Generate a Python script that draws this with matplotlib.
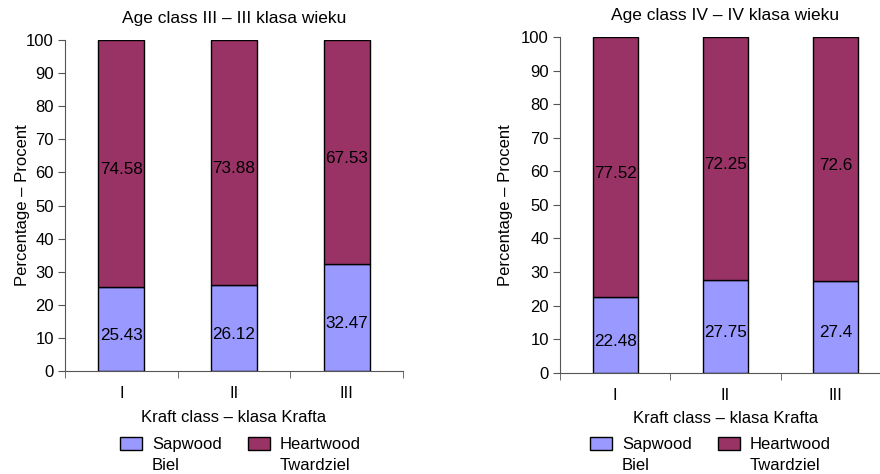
import numpy as np
import matplotlib
matplotlib.use("Agg")
import matplotlib.pyplot as plt
from matplotlib.patches import Patch

plt.rcParams['font.family'] = ['Liberation Sans', 'DejaVu Sans']
plt.rcParams['font.size'] = 12

# data
kraft_classes = ["I", "II", "III"]
sap_age3 = [25.43, 26.12, 32.47]
heart_age3 = [74.58, 73.88, 67.53]
sap_age4 = [22.48, 27.75, 27.4]
heart_age4 = [77.52, 72.25, 72.6]
titles = ["Age class III – III klasa wieku", "Age class IV – IV klasa wieku"]
legend_first = ["Sapwood", "Heartwood"]
legend_second = ["Biel", "Twardziel"]

sap_color = "#9999FF"
heart_color = "#993366"

W, H = 880, 474
fig = plt.figure(figsize=(W / 100, H / 100), dpi=100)

# axes boxes in pixels: left, bottom(y of zero), right, top(y of 100)
boxes = [(65, 371, 403, 40), (560, 372.7, 891, 37)]
legend_pos = [(120, 437), (590, 437)]
ylabel_x = [30, 513]

legends = []

def draw(box, sap, heart, title, leg, ylx):
    l, b, r, t = box
    ax = fig.add_axes([l / W, 1 - b / H, (r - l) / W, (b - t) / H])
    x = np.arange(len(kraft_classes))
    ax.bar(x, sap, width=0.41, color=sap_color, edgecolor="black", linewidth=1)
    ax.bar(x, heart, width=0.41, bottom=sap, color=heart_color, edgecolor="black", linewidth=1)
    for xi, s, h in zip(x, sap, heart):
        ax.annotate(f"{s:g}", (xi, s / 2), xytext=(0, -4.5), textcoords="offset points",
                    ha="center", va="center", fontsize=12.3)
        ax.annotate(f"{h:g}", (xi, s + h / 2), xytext=(0, -4.5), textcoords="offset points",
                    ha="center", va="center", fontsize=12.3)
    ax.set_xlim(-0.5, 2.5)
    ax.set_ylim(0, 100)
    ax.set_yticks(range(0, 101, 10))
    ax.set_xticks(x)
    ax.set_xticklabels(kraft_classes)
    ax.set_xticks(np.arange(-0.5, 3, 1), minor=True)
    ax.tick_params(axis="x", which="major", length=0, pad=11)
    ax.tick_params(axis="x", which="minor", length=5, color="#555555")
    ax.tick_params(axis="y", length=5, color="#555555", pad=3)
    for s in ["top", "right"]:
        ax.spines[s].set_visible(False)
    ax.spines["left"].set_color("#555555")
    ax.spines["bottom"].set_color("#555555")
    ax.set_title(title, fontsize=12.5, pad=12)
    ax.set_xlabel("Kraft class – klasa Krafta", labelpad=6)
    ax.set_ylabel("Percentage – Procent")
    ax.yaxis.set_label_coords((ylx - l) / (r - l), 0.5)
    handles = [Patch(facecolor=sap_color, edgecolor="black"),
               Patch(facecolor=heart_color, edgecolor="black")]
    lg = fig.legend(handles, legend_first, ncol=2, frameon=False,
                    loc="upper left", bbox_to_anchor=(leg[0] / W, 1 - leg[1] / H),
                    handlelength=1.32, handleheight=0.78, handletextpad=0.6,
                    columnspacing=1.55, borderpad=0, borderaxespad=0)
    legends.append(lg)
    return ax

for i, (sap, heart) in enumerate([(sap_age3, heart_age3), (sap_age4, heart_age4)]):
    draw(boxes[i], sap, heart, titles[i], legend_pos[i], ylabel_x[i])

# second line of each legend label, placed under the first one
fig.canvas.draw()
for lg in legends:
    for txt, second in zip(lg.get_texts(), legend_second):
        bb = txt.get_window_extent()
        fig.text(bb.x0 / W, (bb.y0 - 20.5) / H, second, ha="left", va="bottom")

fig.savefig("out.png", dpi=100)
